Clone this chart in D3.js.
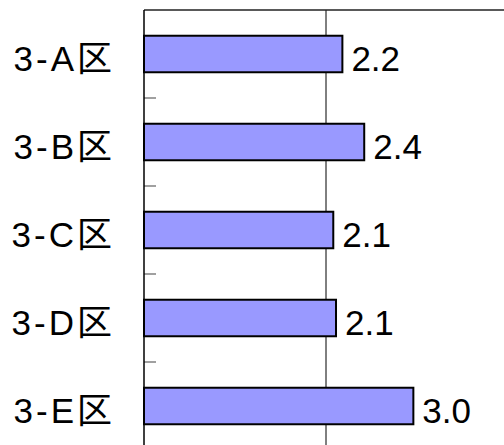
<!DOCTYPE html>
<html>
<head>
<meta charset="utf-8">
<script src="https://cdn.jsdelivr.net/npm/d3@7"></script>
<style>
  body { margin: 0; background: #fff; }
  svg { display: block; }
</style>
</head>
<body>
<svg></svg>
<script>
var categories = ['3-A区', '3-B区', '3-C区', '3-D区', '3-E区'];
var values = [2.18, 2.42, 2.08, 2.11, 2.96];
var xTicks = [2, 4];

/* svg setting */
var svgWidth = 504;
var svgHeight = 445;
var plot = {left: 144, top: 10, right: 508, bottom: 450};

var svg = d3.select('svg')
    .attr('width', svgWidth)
    .attr('height', svgHeight);

var scale = {};
scale.x = d3.scaleLinear()
    .domain([0, 4])
    .range([plot.left, plot.right]);
scale.y = d3.scaleBand()
    .domain(categories)
    .range([plot.top, plot.bottom])
    .paddingInner(0.585)
    .paddingOuter(0.2925);

var fmt = d3.format('.1f');
var font = '"Liberation Sans", Arial, "Noto Sans CJK JP", sans-serif';

// vertical gridlines
svg.append('g')
    .selectAll('line')
    .data(xTicks)
    .enter()
    .append('line')
    .attr('x1', function(d){ return scale.x(d); })
    .attr('x2', function(d){ return scale.x(d); })
    .attr('y1', plot.top)
    .attr('y2', plot.bottom)
    .attr('stroke', '#000')
    .attr('stroke-width', 1);

// top border
svg.append('line')
    .attr('x1', plot.left)
    .attr('x2', plot.right)
    .attr('y1', plot.top)
    .attr('y2', plot.top)
    .attr('stroke', '#222')
    .attr('stroke-width', 1.5);

// small ticks between categories
var step = scale.y.step();
svg.append('g')
    .selectAll('line')
    .data(categories.slice(1))
    .enter()
    .append('line')
    .attr('x1', plot.left)
    .attr('x2', plot.left + 12)
    .attr('y1', function(d){ return scale.y(d) - step * scale.y.paddingInner() / 2; })
    .attr('y2', function(d){ return scale.y(d) - step * scale.y.paddingInner() / 2; })
    .attr('stroke', '#808080')
    .attr('stroke-width', 1.5);

// bars
svg.append('g')
    .selectAll('rect')
    .data(values)
    .enter()
    .append('rect')
    .attr('x', scale.x(0))
    .attr('y', function(d, i){ return scale.y(categories[i]); })
    .attr('width', function(d){ return scale.x(d) - scale.x(0); })
    .attr('height', scale.y.bandwidth())
    .attr('fill', '#9999ff')
    .attr('stroke', '#000')
    .attr('stroke-width', 2);

// left axis line
svg.append('line')
    .attr('x1', plot.left)
    .attr('x2', plot.left)
    .attr('y1', plot.top)
    .attr('y2', plot.bottom)
    .attr('stroke', '#000')
    .attr('stroke-width', 1.5);

// value labels
svg.append('g')
    .selectAll('text')
    .data(values)
    .enter()
    .append('text')
    .attr('x', function(d){ return scale.x(d) + 9; })
    .attr('y', function(d, i){ return scale.y(categories[i]) + scale.y.bandwidth() / 2 + 17; })
    .attr('font-family', font)
    .attr('font-size', 35)
    .attr('fill', '#000')
    .text(function(d){ return fmt(d); });

// category labels
svg.append('g')
    .selectAll('text')
    .data(categories)
    .enter()
    .append('text')
    .attr('x', 115)
    .attr('y', function(d){ return scale.y(d) + scale.y.bandwidth() / 2 + 17; })
    .attr('text-anchor', 'end')
    .attr('font-family', font)
    .attr('font-size', 35)
    .attr('letter-spacing', 3)
    .attr('fill', '#000')
    .text(function(d){ return d; });
</script>
</body>
</html>
